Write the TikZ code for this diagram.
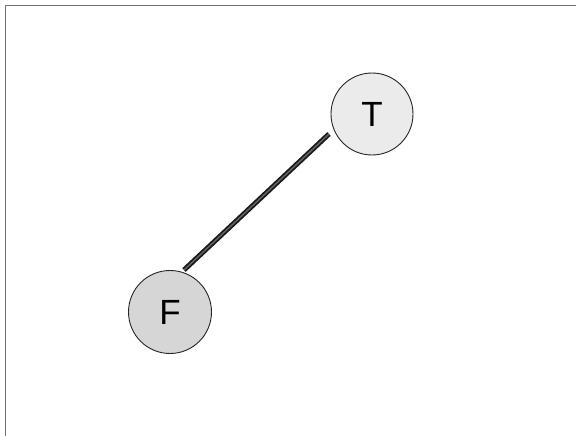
\documentclass[tikz,border=0pt]{standalone}
\usepackage{fontspec}
\setmainfont{Liberation Sans}
\begin{document}
\begin{tikzpicture}[x=1pt,y=-1pt,
  vert/.style={circle,draw=black!85,line width=0.9pt,minimum size=82pt,inner sep=0pt,
    font=\fontsize{35}{40}\selectfont},
  edge/.style={line width=5pt,draw=black!90},
  edgein/.style={line width=1.4pt,draw=black!60}]
\useasboundingbox (0,0) rectangle (582,436);
\fill[white] (0,0) rectangle (582,436);
\draw[black!55,line width=1pt] (5,436) -- (5,6) -- (576,6);
\node[vert,fill=black!8] (T) at (372,114) {T};
\node[vert,fill=black!16,minimum size=83pt] (F) at (170,312) {F};
\coordinate (a) at (329,134);
\coordinate (b) at (184,270);
\draw[edge] (a) -- (b);
\draw[edgein] (a) -- (b);
\end{tikzpicture}
\end{document}
